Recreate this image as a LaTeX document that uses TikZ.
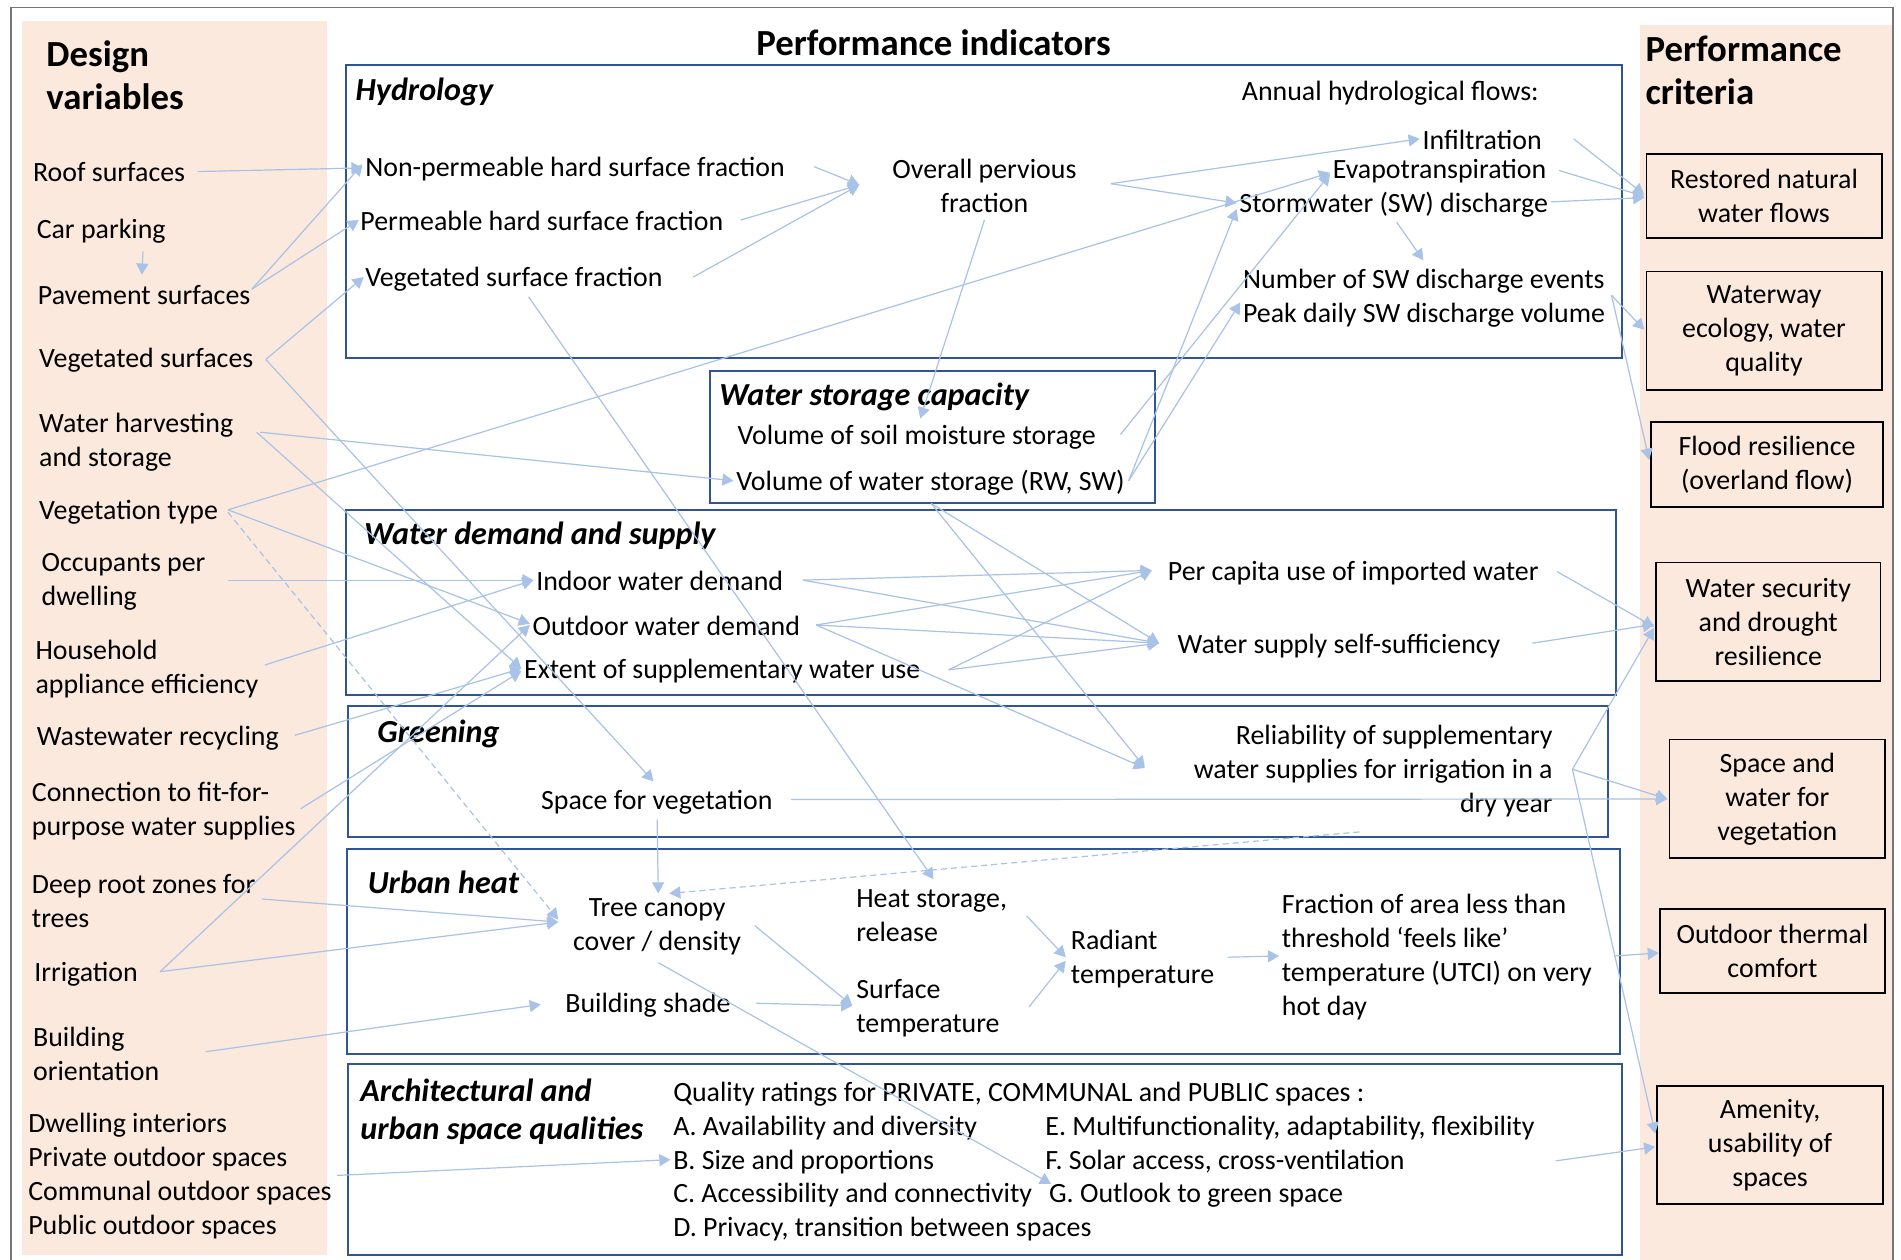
\documentclass[tikz,border=0pt]{standalone}
\usepackage{fontspec}
\setmainfont{Carlito}
\usetikzlibrary{arrows.meta,calc}
\definecolor{panel}{HTML}{FBE9DD}
\definecolor{boxblue}{HTML}{2F5597}
\definecolor{arrblue}{HTML}{A9C2E8}
\definecolor{framegray}{HTML}{767676}
\newcommand\fsbody{\fontsize{13.8pt}{16.8pt}\selectfont}
\newcommand\fshead{\bfseries\fontsize{18.2pt}{21.6pt}\selectfont}
\newcommand\fsttl{\bfseries\itshape\fontsize{15.9pt}{19.2pt}\selectfont}
\tikzset{
  txt/.style={inner sep=0pt, font=\fsbody, align=left, anchor=west, yshift=-1.5pt},
  ctxt/.style={inner sep=0pt, font=\fsbody, align=center, yshift=-1.5pt},
  ttl/.style={inner sep=0pt, font=\fsttl, align=left, anchor=west, yshift=-1.2pt},
  hd/.style={inner sep=0pt, font=\fshead, align=left, anchor=west},
  grp/.style={draw=boxblue, line width=1pt},
  crit/.style={draw=black, line width=0.9pt, fill=panel, align=center, font=\fsbody, inner sep=0pt},
  arr/.style={draw=arrblue, line width=0.6pt, -{Triangle[length=5.5pt,width=6pt]}},
  dsh/.style={arr, dash pattern=on 3pt off 2pt},
}
\begin{document}
\begin{tikzpicture}[x=0.6pt,y=-0.6pt]
\useasboundingbox (0,0) rectangle (1568,1039);
\fill[white] (0,0) rectangle (1568,1039);
\fill[panel] (18,17) rectangle (270,1035);
\fill[panel] (1353,21) rectangle (1561,1039);
\draw[framegray, line width=0.7pt] (9,1039) -- (9,6) -- (1561.5,6) -- (1561.5,1039);

% group boxes
\draw[grp] (285,54) rectangle (1338,295);
\draw[grp] (586,306) rectangle (953,415);
\draw[grp] (285,421) rectangle (1333,573);
\draw[grp] (287,582) rectangle (1326,690);
\draw[grp] (286,700) rectangle (1336,869);
\draw[grp] (287,878) rectangle (1338,1035);

% headings
\node[hd] (dv) at (38,62) {Design\\variables};
\node[inner sep=0pt, font=\fshead] (pi) at (770,35) {Performance indicators};
\node[hd] (pc) at (1357,58) {Performance\\criteria};

% design variables
\node[txt] (roof) at (27,139) {Roof surfaces};
\node[txt] (car) at (30,188) {Car parking};
\node[txt] (pave) at (31,241) {Pavement surfaces};
\node[txt] (vegs) at (32,295) {Vegetated surfaces};
\node[txt] (wh) at (32,362) {Water harvesting\\and storage};
\node[txt] (vtype) at (32,420) {Vegetation type};
\node[txt] (occ) at (34,477.5) {Occupants per\\dwelling};
\node[txt] (hh) at (29,549) {Household\\appliance efficiency};
\node[txt] (ww) at (30,606) {Wastewater recycling};
\node[txt] (conn) at (26,666.5) {Connection to fit-for-\\purpose water supplies};
\node[txt] (deep) at (26,741) {Deep root zones for\\trees};
\node[txt] (irr) at (28,801) {Irrigation};
\node[txt] (bo) at (27,866.5) {Building\\orientation};
\node[txt] (spaces) at (23,967.5) {Dwelling interiors\\Private outdoor spaces\\Communal outdoor spaces\\Public outdoor spaces};

% hydrology
\node[ttl] (hydT) at (293,74) {Hydrology};
\node[txt] (ahf) at (1024,74) {Annual hydrological flows:};
\node[txt] (nphs) at (301,137) {Non-permeable hard surface fraction};
\node[txt] (phs) at (297,180) {Permeable hard surface fraction};
\node[txt] (vsf) at (301,228) {Vegetated surface fraction};
\node[ctxt] (opf) at (812,150.5) {Overall pervious\\fraction};
\node[txt] (inf) at (1173,113) {Infiltration};
\node[txt] (evap) at (1099,139) {Evapotranspiration};
\node[txt] (swd) at (1022,166) {Stormwater (SW) discharge};
\node[txt] (nsw) at (1025,243.5) {Number of SW discharge events\\Peak daily SW discharge volume};

% water storage
\node[ttl] (wscT) at (593,325) {Water storage capacity};
\node[txt] (sms) at (608,358) {Volume of soil moisture storage};
\node[txt] (vws) at (607,396) {Volume of water storage (RW, SW)};

% water demand
\node[ttl] (wdsT) at (300,440) {Water demand and supply};
\node[txt] (iwd) at (442,477) {Indoor water demand};
\node[txt] (owd) at (439,514) {Outdoor water demand};
\node[txt] (esw) at (432,551) {Extent of supplementary water use};
\node[txt] (pcu) at (963,470) {Per capita use of imported water};
\node[txt] (wss) at (971,530) {Water supply self-sufficiency};

% greening
\node[ttl] (grT) at (311,603) {Greening};
\node[txt, anchor=east, align=right] (rel) at (1281,633.5) {Reliability of supplementary\\water supplies for irrigation in a\\dry year};
\node[txt] (sfv) at (446,659) {Space for vegetation};

% urban heat
\node[ttl] (uhT) at (303,726) {Urban heat};
\node[ctxt] (tcc) at (542,762) {Tree canopy\\cover / density};
\node[txt] (hsr) at (706,752.5) {Heat storage,\\release};
\node[txt] (bsh) at (466,827) {Building shade};
\node[txt] (stp) at (706,829) {Surface\\temperature};
\node[txt] (rad) at (883,788.5) {Radiant\\temperature};
\node[txt] (frac) at (1057,787) {Fraction of area less than\\threshold ‘feels like’\\temperature (UTCI) on very\\hot day};

% architecture
\node[ttl] (arT) at (297,915) {Architectural and\\urban space qualities};
\node[txt] (qr) at (555,900) {Quality ratings for PRIVATE, COMMUNAL and PUBLIC spaces :};
\node[txt] (qA) at (555,928) {A. Availability and diversity};
\node[txt] (qB) at (555,956) {B. Size and proportions};
\node[txt] (qC) at (555,983) {C. Accessibility and connectivity};
\node[txt] (qD) at (555,1011) {D. Privacy, transition between spaces};
\node[txt] (qE) at (862,928) {E. Multifunctionality, adaptability, flexibility};
\node[txt] (qF) at (862,956) {F. Solar access, cross-ventilation};
\node[txt] (qG) at (865,983) {G. Outlook to green space};

% criteria
\node[crit, minimum width=116.4pt, minimum height=41.4pt] (c1) at (1455,161.5) {Restored natural\\water flows};
\node[crit, minimum width=116.4pt, minimum height=58.8pt] (c2) at (1455,273) {Waterway\\ecology, water\\quality};
\node[crit, minimum width=114.6pt, minimum height=42pt] (c3) at (1457.5,383) {Flood resilience\\(overland flow)};
\node[crit, minimum width=111pt, minimum height=58.8pt] (c4) at (1458.5,513) {Water security\\and drought\\resilience};
\node[crit, minimum width=106.8pt, minimum height=58.8pt] (c5) at (1466,659) {Space and\\water for\\vegetation};
\node[crit, minimum width=111.6pt, minimum height=41.4pt] (c6) at (1462,784.5) {Outdoor thermal\\comfort};
\node[crit, minimum width=111.6pt, minimum height=58.2pt] (c7) at (1460,944.5) {Amenity,\\usability of\\spaces};

% connectors
\draw[arr] ($(roof.east)+(10,0)$) -- ($(nphs.west)+(-2,-1)$);
\draw[arr] ($(car.east)+(-19,17)$) -- ($(pave.west)+(86,-17)$);
\draw[arr] ($(pave.east)+(1,-5)$) -- ($(nphs.west)+(-2,-4)$);
\draw[arr] ($(pave.east)+(1,-5)$) -- ($(phs.west)+(-1,-1)$);
\draw[arr] ($(vegs.east)+(10,-1)$) -- ($(vsf.west)+(-1,-2)$);
\draw[arr] ($(vegs.east)+(10,-1)$) -- ($(sfv.west)+(93,-17)$);
\draw[arr] ($(wh.east)+(22,-8)$) -- ($(vws.west)+(-2,-2)$);
\draw[arr] ($(wh.east)+(19,-8)$) -- ($(esw.west)+(-2,-2)$);
\draw[arr] ($(vtype.east)+(8,-2)$) -- ($(evap.west)+(-2,1)$);
\draw[arr] ($(vtype.east)+(8,-2)$) -- ($(owd.west)+(-2,-2)$);
\draw[dsh] ($(vtype.east)+(8,0)$) -- ($(tcc.west)+(-12,-6)$);
\draw[arr] ($(occ.east)+(18,-1.5)$) -- ($(iwd.west)+(-2,-1)$);
\draw[arr] ($(hh.east)+(5,-3)$) -- ($(iwd.west)+(-2,-1)$);
\draw[arr] ($(ww.east)+(13,-2)$) -- ($(esw.west)+(-2,-2)$);
\draw[arr] ($(conn.east)+(4,-2)$) -- ($(esw.west)+(-2,0)$);
\draw[arr] ($(irr.east)+(18,-2)$) -- ($(owd.west)+(-2,-1)$);
\draw[arr] ($(irr.east)+(18,-2)$) -- ($(tcc.west)+(-12,-4)$);
\draw[arr] ($(deep.east)+(5,-2)$) -- ($(tcc.west)+(-12,-4)$);
\draw[arr] ($(bo.east)+(38,-1.5)$) -- ($(bsh.west)+(-20,-1)$);
\draw[arr] ($(spaces.east)+(4,-0.5)$) -- ($(qB.west)+(-2,-2)$);
\draw[arr] ($(nphs.east)+(24,-2)$) -- ($(opf.west)+(-27,-0.5)$);
\draw[arr] ($(phs.east)+(14,-1)$) -- ($(opf.west)+(-27,-0.5)$);
\draw[arr] ($(vsf.east)+(25,-2)$) -- ($(opf.west)+(-27,-0.5)$);
\draw[arr] ($(opf.east)+(28,-1.5)$) -- ($(inf.west)+(-2,-1)$);
\draw[arr] ($(opf.east)+(28,-1.5)$) -- ($(swd.west)+(-2,-1)$);
\draw[arr] ($(opf.south)+(0,6)$) -- ($(sms.north)+(3,-5)$);
\draw[arr] ($(sms.east)+(20,-2)$) -- ($(evap.west)+(-2,2)$);
\draw[arr] ($(vws.east)+(3,-2)$) -- ($(swd.west)+(-2,4)$);
\draw[arr] ($(vws.east)+(3,-2)$) -- ($(nsw.west)+(-2,3.5)$);
\draw[arr] ($(vsf.south west)+(135,4)$) -- ($(hsr.north west)+(64,-8)$);
\draw[arr] ($(swd.south west)+(130,4)$) -- ($(nsw.north west)+(149,-7)$);
\draw[arr] ($(inf.east)+(26,-1)$) -- ($(c1.west)+(-1,-1)$);
\draw[arr] ($(evap.east)+(10,-1)$) -- ($(c1.west)+(-1,0.5)$);
\draw[arr] ($(swd.east)+(2,-2)$) -- ($(c1.west)+(-1,1.5)$);
\draw[arr] ($(nsw.east)+(5,-2.5)$) -- ($(c2.west)+(-1,-1)$);
\draw[arr] ($(nsw.east)+(5,-2.5)$) -- ($(c3.north west)+(-1,32)$);
\draw[arr] ($(vws.south west)+(161,6)$) -- ($(wss.west)+(-15,-2)$);
\draw[arr] ($(vws.south west)+(161,6)$) -- ($(rel.west)+(-40,-3)$);
\draw[arr] ($(iwd.east)+(16,-1)$) -- ($(pcu.west)+(-13,-2)$);
\draw[arr] ($(iwd.east)+(16,-1)$) -- ($(wss.west)+(-15,-2)$);
\draw[arr] ($(owd.east)+(13,-1)$) -- ($(pcu.west)+(-13,-2)$);
\draw[arr] ($(owd.east)+(13,-1)$) -- ($(wss.west)+(-15,-2)$);
\draw[arr] ($(owd.east)+(13,-1)$) -- ($(rel.west)+(-40,-2.5)$);
\draw[arr] ($(esw.east)+(23,-1)$) -- ($(pcu.west)+(-13,-2)$);
\draw[arr] ($(esw.east)+(23,-1)$) -- ($(wss.west)+(-15,-2)$);
\draw[arr] ($(pcu.east)+(15,-1)$) -- ($(c4.west)+(-1,4)$);
\draw[arr] ($(wss.east)+(26,-2)$) -- ($(c4.west)+(-1,2)$);
\draw[arr] ($(rel.east)+(16,-1.5)$) -- ($(c4.west)+(-1,5)$);
\draw[arr] ($(rel.east)+(16,-1.5)$) -- ($(c5.west)+(-1,0)$);
\draw[arr] ($(sfv.east)+(15,-2)$) -- ($(c5.west)+(-1,0)$);
\draw[arr] ($(rel.east)+(16,-1.5)$) -- ($(c7.west)+(-1,-9.5)$);
\draw[arr] ($(sfv.south west)+(96,4)$) -- ($(tcc.north)+(1,-4)$);
\draw[dsh] ($(rel.south west)+(137,12)$) -- ($(tcc.north)+(10,-4)$);
\draw[arr] ($(tcc.east)+(11,-1)$) -- ($(stp.west)+(-3,-2)$);
\draw[arr] ($(bsh.east)+(21,-2)$) -- ($(stp.west)+(-3,-2)$);
\draw[arr] ($(tcc.south)+(1,6)$) -- ($(qG.west)+(2,-9)$);
\draw[arr] ($(hsr.east)+(16,0.5)$) -- ($(rad.west)+(-4,-1.5)$);
\draw[arr] ($(stp.east)+(24,-1)$) -- ($(rad.west)+(-4,1.5)$);
\draw[arr] ($(rad.east)+(11,-1.5)$) -- ($(frac.west)+(-2,-1)$);
\draw[arr] ($(frac.east)+(18,-1)$) -- ($(c6.west)+(0,1.5)$);
\draw[arr] ($(qE.east)+(17,27)$) -- ($(c7.west)+(-1,1.5)$);
\end{tikzpicture}
\end{document}
